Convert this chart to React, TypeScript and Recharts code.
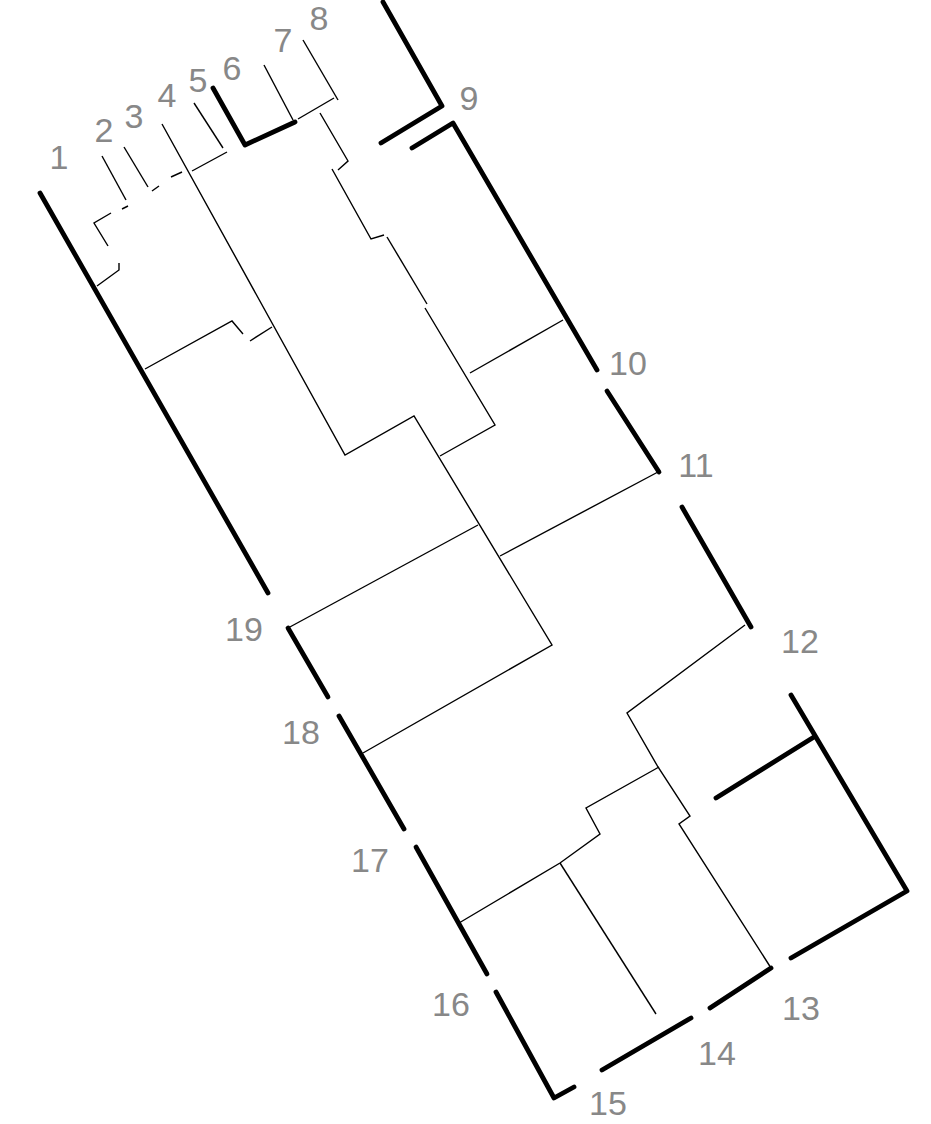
import { ComposedChart, Scatter, XAxis, YAxis } from "recharts";

type Pt = [number, number];

// branch paths of the tree, in chart units (x right, y down)
const thickPaths: Pt[][] = [
  [[40, 193], [268, 593]],
  [[213, 88], [245, 145], [295, 122]],
  [[383, 2], [442, 106], [381, 143]],
  [[412, 148], [453, 123], [597, 370]],
  [[607, 391], [659, 472]],
  [[682, 507], [751, 627]],
  [[791, 695], [907, 891], [791, 958]],
  [[814, 737], [716, 798]],
  [[771, 968], [710, 1008]],
  [[602, 1070], [691, 1018]],
  [[496, 992], [554, 1098], [574, 1087]],
  [[416, 847], [487, 974]],
  [[339, 716], [404, 829]],
  [[288, 628], [328, 697]],
];

const thinPaths: Pt[][] = [
  [[97, 286], [119, 270], [119, 263]],
  [[108, 246], [94, 223], [111, 213]],
  [[122, 209], [128, 206]],
  [[102, 156], [126, 200]],
  [[124, 147], [148, 187]],
  [[152, 191], [159, 186]],
  [[171, 177], [182, 172]],
  [[162, 124], [345, 455], [414, 416], [552, 645], [363, 753]],
  [[194, 103], [223, 148]],
  [[192, 171], [227, 152]],
  [[264, 65], [293, 120]],
  [[303, 40], [338, 100]],
  [[334, 98], [298, 119]],
  [[320, 113], [348, 161], [338, 170]],
  [[332, 169], [371, 239], [384, 235]],
  [[387, 237], [427, 304]],
  [[425, 308], [495, 425], [440, 456]],
  [[145, 369], [232, 321], [243, 334]],
  [[250, 341], [272, 327]],
  [[470, 373], [563, 320]],
  [[478, 525], [288, 628]],
  [[500, 556], [658, 472]],
  [[745, 625], [627, 713], [658, 767], [690, 816], [679, 824], [771, 968]],
  [[459, 923], [560, 863], [600, 834], [586, 808], [659, 767]],
  [[560, 863], [656, 1014]],
];

const leafNames = ["1", "2", "3", "4", "5", "6", "7", "8", "9", "10", "11", "12", "13", "14", "15", "16", "17", "18", "19"];
const leafX = [59, 104, 134, 167, 198, 232, 283, 319, 469, 628, 696, 800, 801, 717, 608, 451, 370, 301, 244];
const leafY = [157, 130, 116, 95, 80, 68, 40, 18, 98, 363, 465, 641, 1008, 1053, 1103, 1004, 860, 732, 629];

const labelData = leafNames.map((name, i) => ({ name, x: leafX[i], y: leafY[i] }));

const toPoints = (path: Pt[]) => path.map(([x, y]) => ({ x, y }));

const Empty = () => <g />;

const LeafLabel = (props: any) => (
  <text
    x={props.cx}
    y={props.cy}
    textAnchor="middle"
    dominantBaseline="central"
    fill="#888888"
    fontSize={34}
    fontFamily="'Liberation Sans', Arial, sans-serif"
  >
    {props.payload.name}
  </text>
);

export default function App() {
  return (
    <div style={{ position: "absolute", left: 0, top: 0, width: 931, height: 1124, background: "#fff" }}>
      <ComposedChart width={931} height={1124} margin={{ top: 0, right: 0, bottom: 0, left: 0 }}>
        <XAxis type="number" dataKey="x" domain={[0, 931]} hide allowDataOverflow />
        <YAxis type="number" dataKey="y" domain={[0, 1124]} reversed hide allowDataOverflow />
        {thinPaths.map((p, i) => (
          <Scatter
            key={"thin" + i}
            data={toPoints(p)}
            fill="#000"
            line={{ stroke: "#000", strokeWidth: 1.4, strokeLinejoin: "miter" }}
            lineJointType="linear"
            shape={Empty}
            isAnimationActive={false}
          />
        ))}
        {thickPaths.map((p, i) => (
          <Scatter
            key={"thick" + i}
            data={toPoints(p)}
            fill="#000"
            line={{ stroke: "#000", strokeWidth: 4.8, strokeLinecap: "round", strokeLinejoin: "round" }}
            lineJointType="linear"
            shape={Empty}
            isAnimationActive={false}
          />
        ))}
        <Scatter data={labelData} shape={LeafLabel} isAnimationActive={false} />
      </ComposedChart>
    </div>
  );
}
